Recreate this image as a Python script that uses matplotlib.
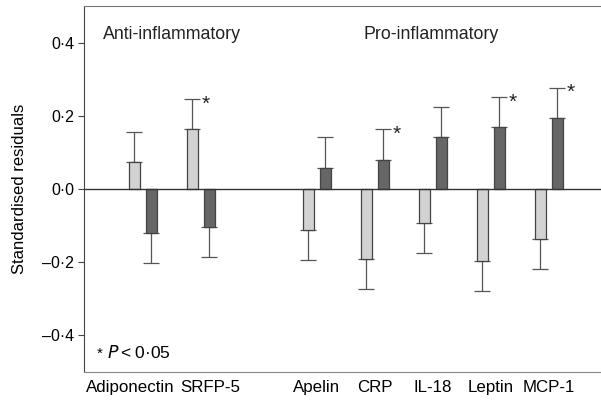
import matplotlib
matplotlib.use("Agg")
import matplotlib.pyplot as plt
import matplotlib.transforms as mtransforms
import numpy as np

categories = ["Adiponectin", "SRFP-5", "Apelin", "CRP", "IL-18", "Leptin", "MCP-1"]
positions = [0, 1, 3, 4, 5, 6, 7]
light_vals = [0.075, 0.164, -0.111, -0.192, -0.093, -0.197, -0.136]
light_err = [0.081, 0.082, 0.084, 0.082, 0.082, 0.082, 0.082]
dark_vals = [-0.121, -0.103, 0.058, 0.080, 0.141, 0.169, 0.194]
dark_err = [0.081, 0.082, 0.084, 0.083, 0.082, 0.082, 0.083]
light_sig = [False, True, False, False, False, False, False]
dark_sig = [False, False, False, True, False, True, True]

plt.rcParams['font.family'] = ['Liberation Sans', 'DejaVu Sans']

fig = plt.figure(figsize=(6.01, 4.01), dpi=100)
ax = fig.add_axes([84/601, 1 - 372/401, (601 - 84)/601, (372 - 6)/401])

x = np.array(positions, dtype=float)
off = 0.147
w = 0.19
light_c = "#d2d2d2"
dark_c = "#666666"
edge = "#444444"
errc = "#555555"

def draw(xs, vals, errs, color):
    ax.bar(xs, vals, width=w, color=color, edgecolor=edge, linewidth=0.9, zorder=3)
    for xi, v, e in zip(xs, vals, errs):
        sgn = 1 if v >= 0 else -1
        ax.errorbar(xi, v, yerr=[[0], [e]] if sgn > 0 else [[e], [0]],
                    fmt='none', ecolor=errc, elinewidth=0.9, capsize=5.5, capthick=0.9, zorder=2)

draw(x - off, light_vals, light_err, light_c)
draw(x + off, dark_vals, dark_err, dark_c)

for xi, v, e, s in zip(x - off, light_vals, light_err, light_sig):
    if s:
        ax.text(xi + 0.16, v + e - 0.014, "*", fontsize=15, ha='left', va='center', color="#222222")
for xi, v, e, s in zip(x + off, dark_vals, dark_err, dark_sig):
    if s:
        ax.text(xi + 0.16, v + e - 0.014, "*", fontsize=15, ha='left', va='center', color="#222222")

ax.axhline(0, color="#333333", linewidth=1.0, zorder=4)

ax.set_xlim(-1.01, 7.9)
ax.set_ylim(-0.5, 0.5)
ax.set_xticks(x)
ax.set_xticklabels(categories, fontsize=12.2)
ax.tick_params(axis='x', length=0, pad=6)
shifts = [-12.5, 9.5, 0, 0, 0, 0, 0]
for lab, s in zip(ax.get_xticklabels(), shifts):
    lab.set_transform(lab.get_transform() + mtransforms.ScaledTranslation(s / 100, 0, fig.dpi_scale_trans))
yt = [-0.4, -0.2, 0.0, 0.2, 0.4]
ax.set_yticks(yt)
ax.set_yticklabels(["\u20130\u00b74", "\u20130\u00b72", "0\u00b70", "0\u00b72", "0\u00b74"], fontsize=11.5)
ax.tick_params(axis='y', length=4.5, width=0.8, color="#444444", pad=2.5)
ax.set_ylabel("Standardised residuals", fontsize=12, labelpad=11)

ax.spines['left'].set_color("#444444")
ax.spines['top'].set_color("#777777")
ax.spines['bottom'].set_color("#888888")
ax.spines['right'].set_visible(False)

ax.text(0.51, 0.422, "Anti-inflammatory", fontsize=12.8, ha='center', va='center', color="#222222")
ax.text(4.98, 0.422, "Pro-inflammatory", fontsize=12.8, ha='center', va='center', color="#222222")
ax.text(-0.79, -0.45, "*", fontsize=11, ha='left', va='center')
ax.text(-0.62, -0.448, "$\\it{P}$\u2009<\u20090\u00b705", fontsize=12.5, ha='left', va='center')

fig.savefig("out.png", dpi=100)
